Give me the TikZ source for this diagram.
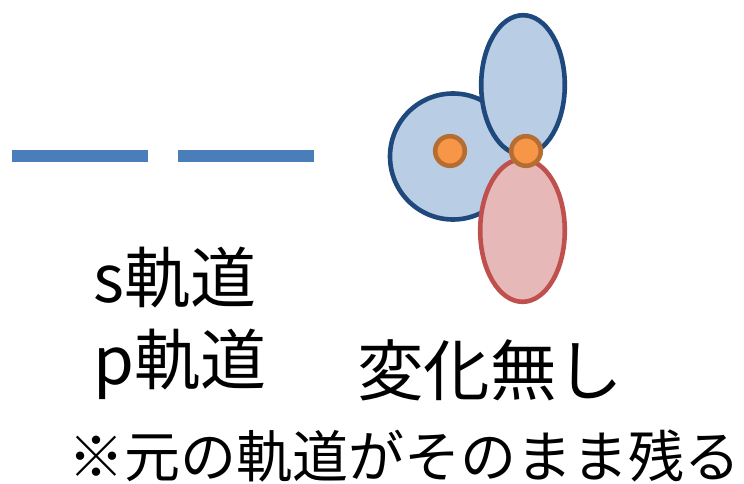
\documentclass[tikz,border=0pt]{standalone}
\usepackage{fontspec}
\setmainfont{Noto Sans CJK JP}
\definecolor{levelblue}{HTML}{4A7EBB}
\definecolor{lobeline}{HTML}{1F497D}
\definecolor{lobefill}{HTML}{B9CDE5}
\definecolor{negline}{HTML}{C0504D}
\definecolor{negfill}{HTML}{E6B9B8}
\definecolor{nucfill}{HTML}{F79646}
\definecolor{nucline}{HTML}{B66D31}
\tikzset{
  level/.style={draw=levelblue, line width=12pt, line cap=butt},
  poslobe/.style={draw=lobeline, fill=lobefill, line width=4.6pt},
  neglobe/.style={draw=negline, fill=negfill, line width=4.6pt},
  nucleus/.style={draw=nucline, fill=nucfill, line width=4.6pt},
  label/.style={inner sep=0pt, anchor=base},
}
\begin{document}
\begin{tikzpicture}[x=1pt,y=1pt]
\useasboundingbox (0,0) rectangle (744,483);

% energy levels
\coordinate (l1a) at (12,327.2);
\coordinate (l1b) at (148,327.2);
\coordinate (l2a) at (178,327.2);
\coordinate (l2b) at (314,327.2);
\draw[level] (l1a) -- (l1b);
\draw[level] (l2a) -- (l2b);

% s orbital and the two p lobes
\draw[poslobe] (453,326.5) circle [radius=63];
\draw[poslobe] (523,398) ellipse [x radius=41.8, y radius=69.8];
\draw[neglobe] (522.5,252.5) ellipse [x radius=42.3, y radius=71.3];

% nuclei
\draw[nucleus] (450,332) circle [radius=14.8];
\draw[nucleus] (526,332) circle [radius=14.8];

% labels
\node[label, anchor=base west, font=\fontsize{66}{70}\selectfont] (sorb) at (93,180.5) {s軌道};
\node[label, anchor=base west, font=\fontsize{66}{70}\selectfont] (porb) at (93,99) {p軌道};
\node[label, font=\fontsize{66.5}{70}\selectfont] (nochange) at (490,88) {変化無し};
\node[label, font=\fontsize{56}{60}\selectfont] (remain) at (404.5,5.7) {※元の軌道がそのまま残る};
\end{tikzpicture}
\end{document}
